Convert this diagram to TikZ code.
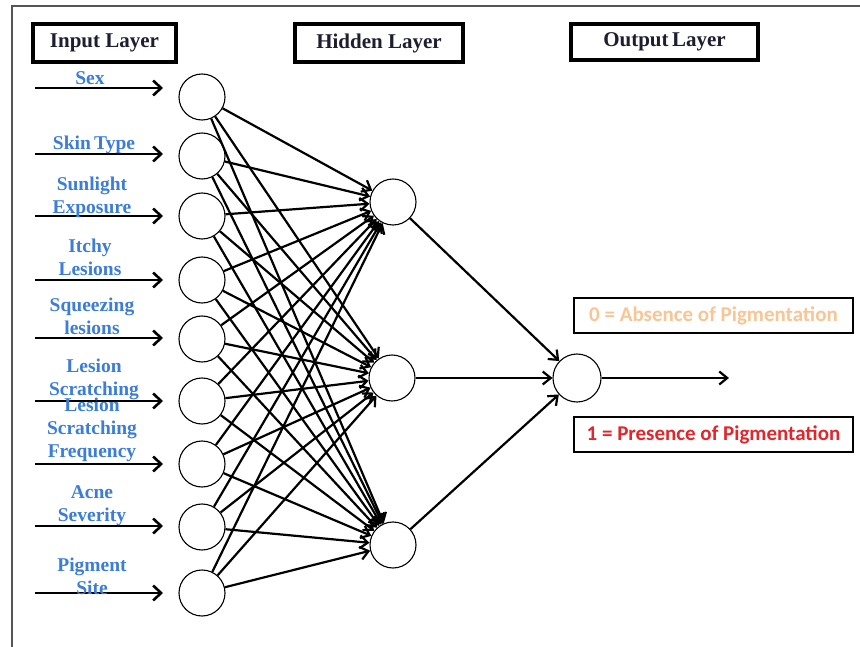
\documentclass[tikz,border=0pt]{standalone}
\usepackage{fontspec}
\setmainfont{Liberation Serif}
\newfontfamily\outfont{Carlito}
\usetikzlibrary{arrows.meta}
\definecolor{lblblue}{HTML}{3B7DD8}
\definecolor{absorange}{HTML}{F8C594}
\definecolor{presred}{HTML}{E3262B}
\definecolor{framegray}{HTML}{555555}
\definecolor{titlecol}{HTML}{1E1E30}
\begin{document}
\begin{tikzpicture}[x=1pt,y=-1pt,
  neuron/.style={circle,draw,line width=1.1pt,minimum size=46pt,inner sep=0pt,fill=white},
  conn/.style={line width=2.2pt,-{Straight Barb[length=8pt,width=13pt,line width=2.2pt]}},
  inarrow/.style={line width=2.6pt,-{Straight Barb[length=8pt,width=15pt,line width=2.6pt]}},
  titlebox/.style={draw,line width=3.4pt,font=\fontsize{21}{22}\selectfont\bfseries,text=titlecol,inner sep=0pt},
  lbl/.style={text=lblblue,font=\fontsize{19.5}{23}\selectfont\bfseries,align=center,inner sep=0pt},
  outbox/.style={draw,line width=2.8pt,font=\outfont\fontsize{21}{22}\selectfont\bfseries,inner sep=0pt,minimum width=279pt,minimum height=35pt}]
\useasboundingbox (0,0) rectangle (860,647);
\fill[white] (0,0) rectangle (860,647);
\draw[framegray,line width=1.8pt] (12,680) -- (12,6) -- (880,6);
% titles
\node[titlebox,minimum width=143pt,minimum height=38pt] (tin) at (104.5,43) {Input Layer};
\node[titlebox,minimum width=168pt,minimum height=38pt] (thid) at (379,43) {Hidden Layer};
\node[titlebox,minimum width=187pt,minimum height=36pt] (tout) at (664.5,42) {Output\,Layer};
% input neurons
\foreach \i/\y in {1/97,2/156,3/216,4/280,5/339,6/401,7/464,8/527,9/593}
  \node[neuron] (i\i) at (202,\y) {};
% hidden and output neurons
\node[neuron] (h1) at (393,202) {};
\node[neuron] (h2) at (392,378) {};
\node[neuron] (h3) at (393,545) {};
\node[neuron,minimum size=48pt] (o) at (577,378) {};
% input arrows
\foreach \i/\y in {1/88,2/154,3/216,4/280,5/338,6/401,7/464,8/526,9/593}{
  \coordinate (s\i) at (35,\y);
  \coordinate (e\i) at (163,\y);
  \draw[inarrow] (s\i) -- (e\i);
}
% labels
\node[lbl] (l1) at (90,78) {Sex};
\node[lbl] (l2) at (94,145) {Skin\,Type};
\node[lbl] (l3) at (92,197) {Sunlight\\Exposure};
\node[lbl] (l4) at (90,257) {Itchy\\Lesions};
\node[lbl] (l5) at (92,316) {Squeezing\\lesions};
\node[lbl] (l6) at (94,379) {Lesion\\Scratching};
\node[lbl] (l7) at (92,430) {Lesion\\Scratching\\Frequency};
\node[lbl] (l8) at (92,506) {Acne\\Severity};
\node[lbl] (l9) at (92,576) {Pigment\\Site};
% connections input -> hidden
\foreach \i in {1,...,9}
  \foreach \j in {1,2,3}
    \draw[conn] (i\i) -- (h\j);
% hidden -> output
\foreach \j in {1,2,3}
  \draw[conn] (h\j) -- (o);
\coordinate (oend) at (729,378);
\draw[conn] (o) -- (oend);
% output boxes
\node[outbox,text=absorange] (abs) at (713.5,315.5) {0 = Absence of Pigmentation};
\node[outbox,text=presred] (pres) at (713.5,434.5) {1 = Presence of Pigmentation};
\end{tikzpicture}
\end{document}
